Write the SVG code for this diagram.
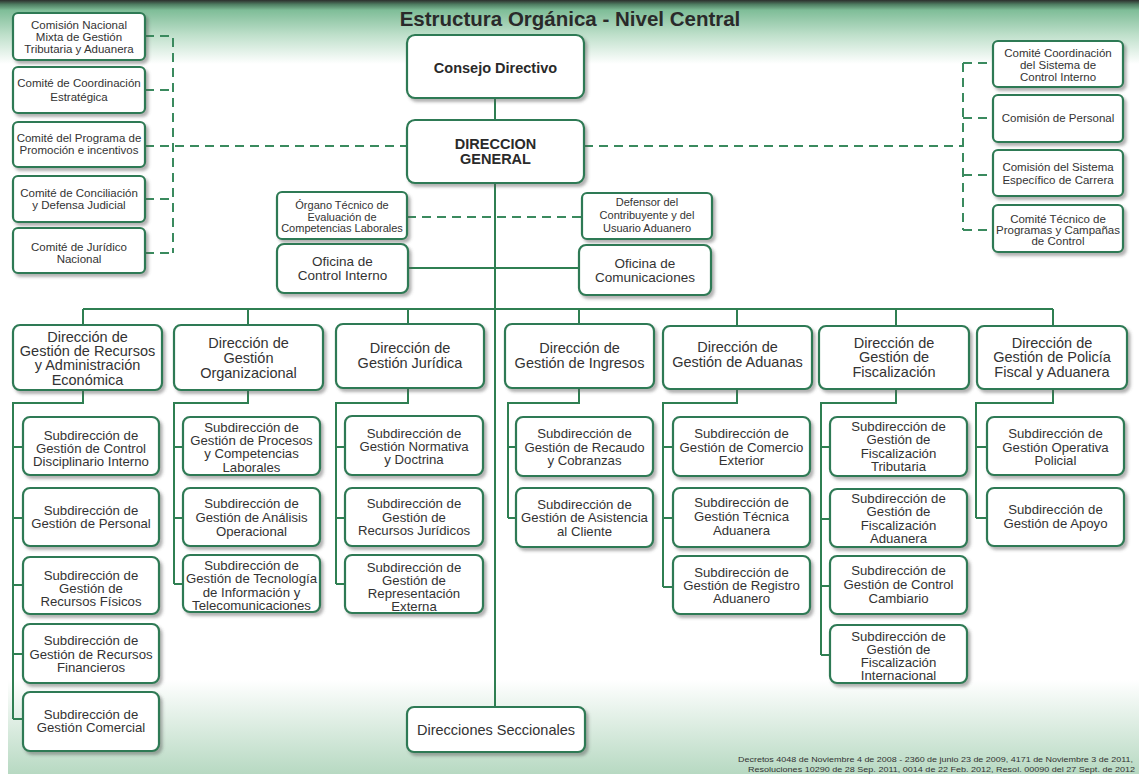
<svg xmlns="http://www.w3.org/2000/svg" width="1139" height="774" viewBox="0 0 1139 774">
<defs>
<linearGradient id="topg" x1="0" y1="0" x2="0" y2="1">
<stop offset="0" stop-color="#2c2f2d"/>
<stop offset="0.07" stop-color="#4f7d62"/>
<stop offset="0.16" stop-color="#7fbd98"/>
<stop offset="0.55" stop-color="#bfe0cb"/>
<stop offset="1" stop-color="#ffffff"/>
</linearGradient>
<linearGradient id="botg" x1="0" y1="0" x2="0" y2="1">
<stop offset="0" stop-color="#ffffff"/>
<stop offset="1" stop-color="#b7d9c2"/>
</linearGradient>
<filter id="sh" x="-10%" y="-10%" width="125%" height="135%">
<feDropShadow dx="2.5" dy="3" stdDeviation="1.8" flood-color="#555" flood-opacity="0.45"/>
</filter>
<style>
.b{fill:#fff;stroke:#2f7a54;stroke-width:2.2;filter:url(#sh)}
.t{font-family:"Liberation Sans",Arial,sans-serif;fill:#333;text-anchor:middle}
.c{font-size:11.5px}
.o{font-size:11px}
.m{font-size:14.5px;font-weight:bold;fill:#2a2a2a}
.f{font-size:13.5px}
.d{font-size:14.5px}
.s{font-size:13.2px}
.ln{fill:none;stroke:#2f7f52;stroke-width:2}
.ds{fill:none;stroke:#3a8a5e;stroke-width:2;stroke-dasharray:9 6}
</style>
</defs>
<rect x="0" y="0" width="1139" height="774" fill="#fff"/>
<rect x="0" y="0" width="1139" height="64" fill="url(#topg)"/>
<rect x="8" y="680" width="1131" height="94" fill="url(#botg)"/>
<text x="570" y="26" style="font-family:'Liberation Sans',Arial,sans-serif;font-size:20.5px;font-weight:bold;fill:#2a2a2a" text-anchor="middle">Estructura Orgánica - Nivel Central</text>

<g id="connectors">
<path class="ds" d="M145 36H173V253M145 90H173M145 199H173M145 253H173M145 146H407"/>
<path class="ds" d="M584 146H963M963 63V230M963 63H993M963 118H993M963 175H993M963 230H993"/>
<path class="ds" d="M407 217H582"/>
<path class="ln" d="M495 98V120M495 183V707M408 268H579M83 309H1053"/>
<path class="ln" d="M83 309V325M248 309V325M408 309V324M579 309V324M737 309V326M896 309V326M1053 309V326"/>
<path class="ln" d="M83 390V403H13V719M13 447H23M13 518H23M13 585H23M13 654H23M13 719H23"/>
<path class="ln" d="M248 390V403H174V584M174 447H183M174 518H183M174 584H183"/>
<path class="ln" d="M408 388V403H336V584M336 447H345M336 518H345M336 584H345"/>
<path class="ln" d="M579 388V403H508V518M508 447H516M508 518H516"/>
<path class="ln" d="M737 389V403H663V587M663 447H673M663 518H673M663 587H673"/>
<path class="ln" d="M896 389V403H821V655M821 447H830M821 519H830M821 586H830M821 655H830"/>
<path class="ln" d="M1053 389V403H976V518M976 447H987M976 518H987"/>
</g>

<g id="l1"><rect class="b" x="13" y="13" width="132" height="47" rx="5"/><text class="t c" x="79" y="29">Comisión Nacional</text><text class="t c" x="79" y="41">Mixta de Gestión</text><text class="t c" x="79" y="53">Tributaria y Aduanera</text></g>
<g id="l2"><rect class="b" x="13" y="67" width="132" height="46" rx="5"/><text class="t c" x="79" y="87">Comité de Coordinación</text><text class="t c" x="79" y="101">Estratégica</text></g>
<g id="l3"><rect class="b" x="13" y="122" width="132" height="45" rx="5"/><text class="t c" x="79" y="142">Comité del Programa de</text><text class="t c" x="79" y="154">Promoción e incentivos</text></g>
<g id="l4"><rect class="b" x="13" y="176" width="132" height="46" rx="5"/><text class="t c" x="79" y="197">Comité de Conciliación</text><text class="t c" x="79" y="209">y Defensa Judicial</text></g>
<g id="l5"><rect class="b" x="13" y="228" width="132" height="45" rx="5"/><text class="t c" x="79" y="251">Comité de Jurídico</text><text class="t c" x="79" y="263">Nacional</text></g>

<g id="r1"><rect class="b" x="993" y="41" width="130" height="46" rx="5"/><text class="t c" x="1058" y="57">Comité Coordinación</text><text class="t c" x="1058" y="69">del Sistema de</text><text class="t c" x="1058" y="81">Control Interno</text></g>
<g id="r2"><rect class="b" x="993" y="95" width="130" height="47" rx="5"/><text class="t c" x="1058" y="122">Comisión de Personal</text></g>
<g id="r3"><rect class="b" x="993" y="150" width="130" height="46" rx="5"/><text class="t c" x="1058" y="171">Comisión del Sistema</text><text class="t c" x="1058" y="184">Específico de Carrera</text></g>
<g id="r4"><rect class="b" x="993" y="205" width="130" height="47" rx="5"/><text class="t c" x="1058" y="223">Comité Técnico de</text><text class="t c" x="1058" y="234">Programas y Campañas</text><text class="t c" x="1058" y="245">de Control</text></g>

<g id="consejo"><rect class="b" x="407" y="35" width="177" height="63" rx="8"/><text class="t m" x="495.5" y="73">Consejo Directivo</text></g>
<g id="dirgen"><rect class="b" x="407" y="120" width="177" height="63" rx="8"/><text class="t m" x="495.5" y="149">DIRECCION</text><text class="t m" x="495.5" y="164">GENERAL</text></g>
<g id="organo"><rect class="b" x="277" y="192" width="130" height="47" rx="5"/><text class="t o" x="342" y="209">Órgano Técnico de</text><text class="t o" x="342" y="220.5">Evaluación de</text><text class="t o" x="342" y="232">Competencias Laborales</text></g>
<g id="defensor"><rect class="b" x="582" y="193" width="130" height="46" rx="5"/><text class="t o" x="647" y="206">Defensor del</text><text class="t o" x="647" y="219">Contribuyente y del</text><text class="t o" x="647" y="232">Usuario Aduanero</text></g>
<g id="ofci"><rect class="b" x="277" y="244" width="131" height="49" rx="7"/><text class="t f" x="342.5" y="266">Oficina de</text><text class="t f" x="342.5" y="280">Control Interno</text></g>
<g id="ofcom"><rect class="b" x="579" y="245" width="132" height="50" rx="7"/><text class="t f" x="645" y="268">Oficina de</text><text class="t f" x="645" y="282">Comunicaciones</text></g>

<g id="d1"><rect class="b" x="13" y="325" width="149" height="65" rx="7"/><text class="t d" x="87.5" y="342">Dirección de</text><text class="t d" x="87.5" y="356">Gestión de Recursos</text><text class="t d" x="87.5" y="370">y Administración</text><text class="t d" x="87.5" y="385">Económica</text></g>
<g id="d2"><rect class="b" x="174" y="325" width="149" height="65" rx="7"/><text class="t d" x="248.5" y="348">Dirección de</text><text class="t d" x="248.5" y="363">Gestión</text><text class="t d" x="248.5" y="378">Organizacional</text></g>
<g id="d3"><rect class="b" x="336" y="324" width="148" height="64" rx="7"/><text class="t d" x="410" y="353">Dirección de</text><text class="t d" x="410" y="368">Gestión Jurídica</text></g>
<g id="d4"><rect class="b" x="505" y="324" width="149" height="64" rx="7"/><text class="t d" x="579.5" y="353">Dirección de</text><text class="t d" x="579.5" y="368">Gestión de Ingresos</text></g>
<g id="d5"><rect class="b" x="663" y="326" width="149" height="63" rx="7"/><text class="t d" x="737.5" y="352">Dirección de</text><text class="t d" x="737.5" y="367">Gestión de Aduanas</text></g>
<g id="d6"><rect class="b" x="819" y="326" width="150" height="63" rx="7"/><text class="t d" x="894" y="348">Dirección de</text><text class="t d" x="894" y="362">Gestión de</text><text class="t d" x="894" y="377">Fiscalización</text></g>
<g id="d7"><rect class="b" x="977" y="326" width="150" height="63" rx="7"/><text class="t d" x="1052" y="348">Dirección de</text><text class="t d" x="1052" y="362">Gestión de Policía</text><text class="t d" x="1052" y="377">Fiscal y Aduanera</text></g>

<g id="s11"><rect class="b" x="23" y="417" width="136" height="58" rx="7"/><text class="t s" x="91" y="440">Subdirección de</text><text class="t s" x="91" y="453">Gestión de Control</text><text class="t s" x="91" y="466">Disciplinario Interno</text></g>
<g id="s12"><rect class="b" x="23" y="488" width="136" height="58" rx="7"/><text class="t s" x="91" y="515">Subdirección de</text><text class="t s" x="91" y="528">Gestión de Personal</text></g>
<g id="s13"><rect class="b" x="23" y="557" width="136" height="57" rx="7"/><text class="t s" x="91" y="580">Subdirección de</text><text class="t s" x="91" y="593">Gestión de</text><text class="t s" x="91" y="606">Recursos Físicos</text></g>
<g id="s14"><rect class="b" x="23" y="624" width="136" height="59" rx="7"/><text class="t s" x="91" y="645">Subdirección de</text><text class="t s" x="91" y="659">Gestión de Recursos</text><text class="t s" x="91" y="672">Financieros</text></g>
<g id="s15"><rect class="b" x="23" y="692" width="136" height="59" rx="7"/><text class="t s" x="91" y="719">Subdirección de</text><text class="t s" x="91" y="732">Gestión Comercial</text></g>

<g id="s21"><rect class="b" x="183" y="417" width="137" height="58" rx="7"/><text class="t s" x="251.5" y="432">Subdirección de</text><text class="t s" x="251.5" y="445">Gestión de Procesos</text><text class="t s" x="251.5" y="458">y Competencias</text><text class="t s" x="251.5" y="472">Laborales</text></g>
<g id="s22"><rect class="b" x="183" y="488" width="137" height="58" rx="7"/><text class="t s" x="251.5" y="508">Subdirección de</text><text class="t s" x="251.5" y="522">Gestión de Análisis</text><text class="t s" x="251.5" y="536">Operacional</text></g>
<g id="s23"><rect class="b" x="183" y="555" width="137" height="57" rx="7"/><text class="t s" x="251.5" y="570">Subdirección de</text><text class="t s" x="251.5" y="583">Gestión de Tecnología</text><text class="t s" x="251.5" y="597">de Información y</text><text class="t s" x="251.5" y="610">Telecomunicaciones</text></g>

<g id="s31"><rect class="b" x="345" y="416" width="138" height="59" rx="7"/><text class="t s" x="414" y="438">Subdirección de</text><text class="t s" x="414" y="451">Gestión Normativa</text><text class="t s" x="414" y="464">y Doctrina</text></g>
<g id="s32"><rect class="b" x="345" y="488" width="138" height="58" rx="7"/><text class="t s" x="414" y="508">Subdirección de</text><text class="t s" x="414" y="522">Gestión de</text><text class="t s" x="414" y="535">Recursos Jurídicos</text></g>
<g id="s33"><rect class="b" x="345" y="555" width="138" height="58" rx="7"/><text class="t s" x="414" y="572">Subdirección de</text><text class="t s" x="414" y="585">Gestión de</text><text class="t s" x="414" y="598">Representación</text><text class="t s" x="414" y="611">Externa</text></g>

<g id="s41"><rect class="b" x="516" y="417" width="137" height="59" rx="7"/><text class="t s" x="584.5" y="438">Subdirección de</text><text class="t s" x="584.5" y="452">Gestión de Recaudo</text><text class="t s" x="584.5" y="465">y Cobranzas</text></g>
<g id="s42"><rect class="b" x="516" y="488" width="137" height="59" rx="7"/><text class="t s" x="584.5" y="509">Subdirección de</text><text class="t s" x="584.5" y="522">Gestión de Asistencia</text><text class="t s" x="584.5" y="536">al Cliente</text></g>

<g id="s51"><rect class="b" x="673" y="417" width="137" height="59" rx="7"/><text class="t s" x="741.5" y="438">Subdirección de</text><text class="t s" x="741.5" y="452">Gestión de Comercio</text><text class="t s" x="741.5" y="465">Exterior</text></g>
<g id="s52"><rect class="b" x="673" y="488" width="137" height="59" rx="7"/><text class="t s" x="741.5" y="507">Subdirección de</text><text class="t s" x="741.5" y="521">Gestión Técnica</text><text class="t s" x="741.5" y="535">Aduanera</text></g>
<g id="s53"><rect class="b" x="673" y="556" width="137" height="58" rx="7"/><text class="t s" x="741.5" y="577">Subdirección de</text><text class="t s" x="741.5" y="590">Gestión de Registro</text><text class="t s" x="741.5" y="603">Aduanero</text></g>

<g id="s61"><rect class="b" x="830" y="417" width="137" height="59" rx="7"/><text class="t s" x="898.5" y="431">Subdirección de</text><text class="t s" x="898.5" y="444">Gestión de</text><text class="t s" x="898.5" y="458">Fiscalización</text><text class="t s" x="898.5" y="471">Tributaria</text></g>
<g id="s62"><rect class="b" x="830" y="489" width="137" height="58" rx="7"/><text class="t s" x="898.5" y="503">Subdirección de</text><text class="t s" x="898.5" y="516">Gestión de</text><text class="t s" x="898.5" y="530">Fiscalización</text><text class="t s" x="898.5" y="543">Aduanera</text></g>
<g id="s63"><rect class="b" x="830" y="556" width="137" height="58" rx="7"/><text class="t s" x="898.5" y="575">Subdirección de</text><text class="t s" x="898.5" y="589">Gestión de Control</text><text class="t s" x="898.5" y="603">Cambiario</text></g>
<g id="s64"><rect class="b" x="830" y="625" width="137" height="58" rx="7"/><text class="t s" x="898.5" y="641">Subdirección de</text><text class="t s" x="898.5" y="654">Gestión de</text><text class="t s" x="898.5" y="667">Fiscalización</text><text class="t s" x="898.5" y="680">Internacional</text></g>

<g id="s71"><rect class="b" x="987" y="417" width="137" height="58" rx="7"/><text class="t s" x="1055.5" y="438">Subdirección de</text><text class="t s" x="1055.5" y="452">Gestión Operativa</text><text class="t s" x="1055.5" y="465">Policial</text></g>
<g id="s72"><rect class="b" x="987" y="488" width="137" height="58" rx="7"/><text class="t s" x="1055.5" y="514">Subdirección de</text><text class="t s" x="1055.5" y="528">Gestión de Apoyo</text></g>

<g id="seccionales"><rect class="b" x="407" y="707" width="178" height="45" rx="7"/><text class="t d" x="496" y="735">Direcciones Seccionales</text></g>

<g id="footnote" style="font-family:'Liberation Sans',Arial,sans-serif;font-size:8px;fill:#333">
<text x="738" y="762" textLength="395" lengthAdjust="spacingAndGlyphs">Decretos 4048 de Noviembre 4 de 2008 - 2360 de junio 23 de 2009, 4171 de Noviembre 3 de 2011,</text>
<text x="748" y="772" textLength="387" lengthAdjust="spacingAndGlyphs">Resoluciones 10290 de 28 Sep. 2011, 0014 de 22 Feb. 2012, Resol. 00090 del 27 Sept. de 2012</text>
</g>
</svg>
